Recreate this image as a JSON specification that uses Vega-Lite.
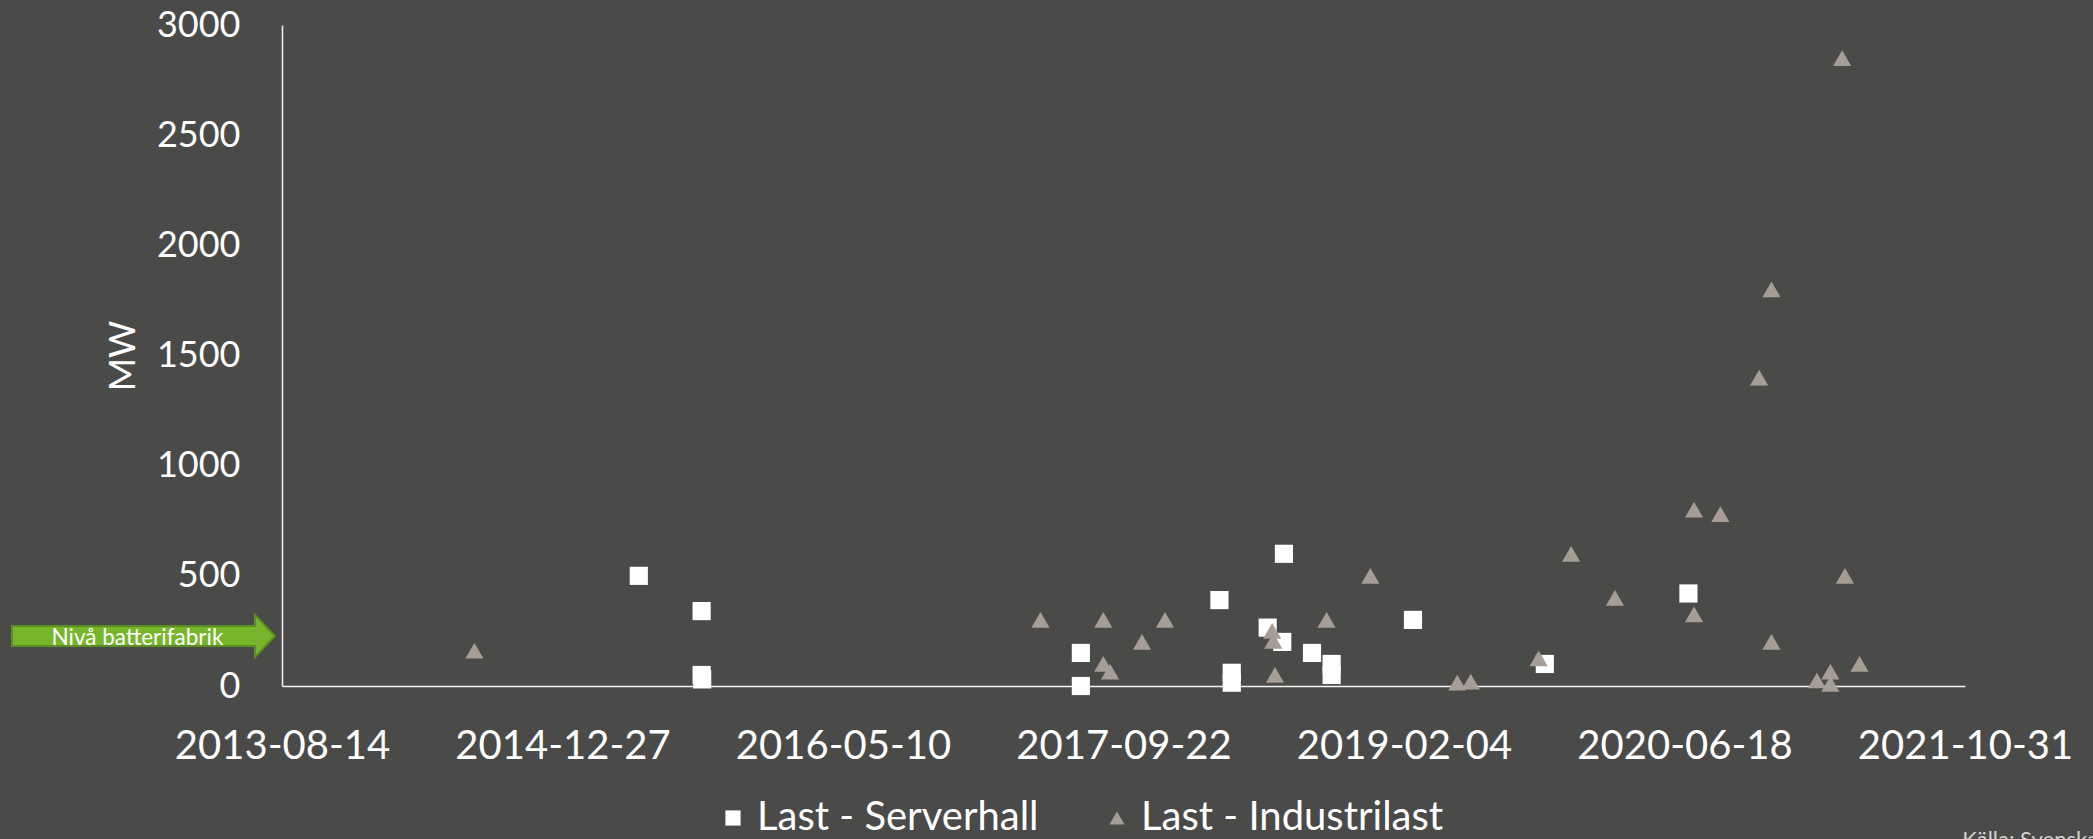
{
  "$schema": "https://vega.github.io/schema/vega-lite/v6.json",
  "width": 1683,
  "height": 661,
  "autosize": {"type": "none"},
  "padding": {"left": 282, "top": 25, "right": 128, "bottom": 153},
  "background": "#4a4a48",
  "config": {"view": {"stroke": null}, "font": "Lato"},
  "datasets": {
    "points": [
      {"date": "2015-05-12", "MW": 500, "serie": "Last - Serverhall"},
      {"date": "2015-09-01", "MW": 340, "serie": "Last - Serverhall"},
      {"date": "2015-09-01", "MW": 50, "serie": "Last - Serverhall"},
      {"date": "2015-09-02", "MW": 30, "serie": "Last - Serverhall"},
      {"date": "2017-07-08", "MW": 150, "serie": "Last - Serverhall"},
      {"date": "2017-07-08", "MW": 0, "serie": "Last - Serverhall"},
      {"date": "2018-03-12", "MW": 390, "serie": "Last - Serverhall"},
      {"date": "2018-04-03", "MW": 60, "serie": "Last - Serverhall"},
      {"date": "2018-04-03", "MW": 15, "serie": "Last - Serverhall"},
      {"date": "2018-06-06", "MW": 265, "serie": "Last - Serverhall"},
      {"date": "2018-07-02", "MW": 200, "serie": "Last - Serverhall"},
      {"date": "2018-07-05", "MW": 600, "serie": "Last - Serverhall"},
      {"date": "2018-08-24", "MW": 150, "serie": "Last - Serverhall"},
      {"date": "2018-09-28", "MW": 100, "serie": "Last - Serverhall"},
      {"date": "2018-09-28", "MW": 50, "serie": "Last - Serverhall"},
      {"date": "2019-02-20", "MW": 300, "serie": "Last - Serverhall"},
      {"date": "2019-10-13", "MW": 100, "serie": "Last - Serverhall"},
      {"date": "2020-06-25", "MW": 420, "serie": "Last - Serverhall"},
      {"date": "2014-07-23", "MW": 160, "serie": "Last - Industrilast"},
      {"date": "2017-04-27", "MW": 300, "serie": "Last - Industrilast"},
      {"date": "2017-08-17", "MW": 300, "serie": "Last - Industrilast"},
      {"date": "2017-08-17", "MW": 100, "serie": "Last - Industrilast"},
      {"date": "2017-08-29", "MW": 65, "serie": "Last - Industrilast"},
      {"date": "2017-10-25", "MW": 200, "serie": "Last - Industrilast"},
      {"date": "2017-12-05", "MW": 300, "serie": "Last - Industrilast"},
      {"date": "2018-06-14", "MW": 250, "serie": "Last - Industrilast"},
      {"date": "2018-06-16", "MW": 205, "serie": "Last - Industrilast"},
      {"date": "2018-06-19", "MW": 50, "serie": "Last - Industrilast"},
      {"date": "2018-09-19", "MW": 300, "serie": "Last - Industrilast"},
      {"date": "2018-12-06", "MW": 500, "serie": "Last - Industrilast"},
      {"date": "2019-05-10", "MW": 15, "serie": "Last - Industrilast"},
      {"date": "2019-06-03", "MW": 20, "serie": "Last - Industrilast"},
      {"date": "2019-10-02", "MW": 125, "serie": "Last - Industrilast"},
      {"date": "2019-11-29", "MW": 600, "serie": "Last - Industrilast"},
      {"date": "2020-02-15", "MW": 400, "serie": "Last - Industrilast"},
      {"date": "2020-07-05", "MW": 800, "serie": "Last - Industrilast"},
      {"date": "2020-07-05", "MW": 325, "serie": "Last - Industrilast"},
      {"date": "2020-08-21", "MW": 780, "serie": "Last - Industrilast"},
      {"date": "2020-10-29", "MW": 1400, "serie": "Last - Industrilast"},
      {"date": "2020-11-20", "MW": 1800, "serie": "Last - Industrilast"},
      {"date": "2020-11-20", "MW": 200, "serie": "Last - Industrilast"},
      {"date": "2021-02-09", "MW": 25, "serie": "Last - Industrilast"},
      {"date": "2021-03-05", "MW": 65, "serie": "Last - Industrilast"},
      {"date": "2021-03-05", "MW": 10, "serie": "Last - Industrilast"},
      {"date": "2021-03-26", "MW": 2850, "serie": "Last - Industrilast"},
      {"date": "2021-03-31", "MW": 500, "serie": "Last - Industrilast"},
      {"date": "2021-04-26", "MW": 100, "serie": "Last - Industrilast"}
    ],
    "annotation": [
      {"date": "2012-12-10", "MW": 227, "label": "Nivå batterifabrik"}
    ],
    "source": [
      {"date": "2021-10-26", "MW": -654, "label": "Källa: Svenska kraftnät"}
    ]
  },
  "encoding": {
    "x": {
      "field": "date", "type": "temporal", "title": null,
      "scale": {"type": "utc", "domain": [{"year": 2013, "month": 8, "date": 14, "utc": true}, {"year": 2021, "month": 10, "date": 31, "utc": true}]},
      "axis": {
        "title": null, "format": "%Y-%m-%d",
        "values": [
          {"year": 2013, "month": 8, "date": 14, "utc": true},
          {"year": 2014, "month": 12, "date": 27, "utc": true},
          {"year": 2016, "month": 5, "date": 10, "utc": true},
          {"year": 2017, "month": 9, "date": 22, "utc": true},
          {"year": 2019, "month": 2, "date": 4, "utc": true},
          {"year": 2020, "month": 6, "date": 18, "utc": true},
          {"year": 2021, "month": 10, "date": 31, "utc": true}
        ],
        "labelFont": "Lato", "labelFontSize": 40, "labelColor": "#ffffff", "labelPadding": 40, "labelLimit": 0,
        "labelFlush": false, "labelOverlap": false,
        "ticks": false, "grid": false, "domainColor": "#f2f2f2", "domainWidth": 1.5
      }
    },
    "y": {
      "field": "MW", "type": "quantitative", "title": "MW",
      "scale": {"domain": [0, 3000], "nice": false, "zero": true},
      "axis": {
        "title": "MW", "titleFont": "Lato", "titleFontSize": 36, "titleFontWeight": "normal", "titleColor": "#ffffff", "titlePadding": 14,
        "values": [0, 500, 1000, 1500, 2000, 2500, 3000], "format": "d",
        "labelFont": "Lato", "labelFontSize": 36, "labelColor": "#ffffff", "labelPadding": 42,
        "ticks": false, "grid": false, "domainColor": "#f2f2f2", "domainWidth": 1.5
      }
    }
  },
  "layer": [
    {
      "data": {"name": "points"},
      "mark": {"type": "point", "filled": true, "opacity": 1, "size": 330, "strokeWidth": 0},
      "encoding": {
        "color": {
          "field": "serie", "type": "nominal",
          "scale": {"domain": ["Last - Serverhall", "Last - Industrilast"], "range": ["#ffffff", "#a69e96"]},
          "legend": {"orient": "none", "legendX": 431, "legendY": 773, "direction": "horizontal", "title": null,
            "labelFont": "Lato", "labelFontSize": 40, "labelColor": "#ffffff", "labelOffset": 4, "labelLimit": 0,
            "symbolSize": 230, "symbolStrokeWidth": 0, "columnPadding": 58}
        },
        "shape": {
          "field": "serie", "type": "nominal",
          "scale": {"domain": ["Last - Serverhall", "Last - Industrilast"], "range": ["square", "triangle-up"]},
          "legend": {"orient": "none", "legendX": 431, "legendY": 773, "direction": "horizontal", "title": null,
            "labelFont": "Lato", "labelFontSize": 40, "labelColor": "#ffffff", "labelOffset": 4, "labelLimit": 0,
            "symbolSize": 230, "symbolStrokeWidth": 0, "columnPadding": 58}
        }
      }
    },
    {
      "data": {"name": "annotation"},
      "mark": {"type": "point", "shape": "M-1,-0.076L0.848,-0.076L0.848,-0.16L1,0L0.848,0.16L0.848,0.076L-1,0.076Z", "size": 69169, "filled": true, "fill": "#77b52b", "stroke": "#5c8f23", "strokeWidth": 2, "opacity": 1}
    },
    {
      "data": {"name": "annotation"},
      "mark": {"type": "text", "font": "Lato", "fontSize": 22.5, "color": "#ffffff", "align": "center", "baseline": "middle", "dx": -6, "dy": 2},
      "encoding": {
        "text": {"field": "label"}
      }
    },
    {
      "data": {"name": "source"},
      "mark": {"type": "text", "font": "Lato", "fontSize": 22, "color": "#d0d0d0", "align": "left", "baseline": "top"},
      "encoding": {
        "text": {"field": "label"}
      }
    }
  ]
}
